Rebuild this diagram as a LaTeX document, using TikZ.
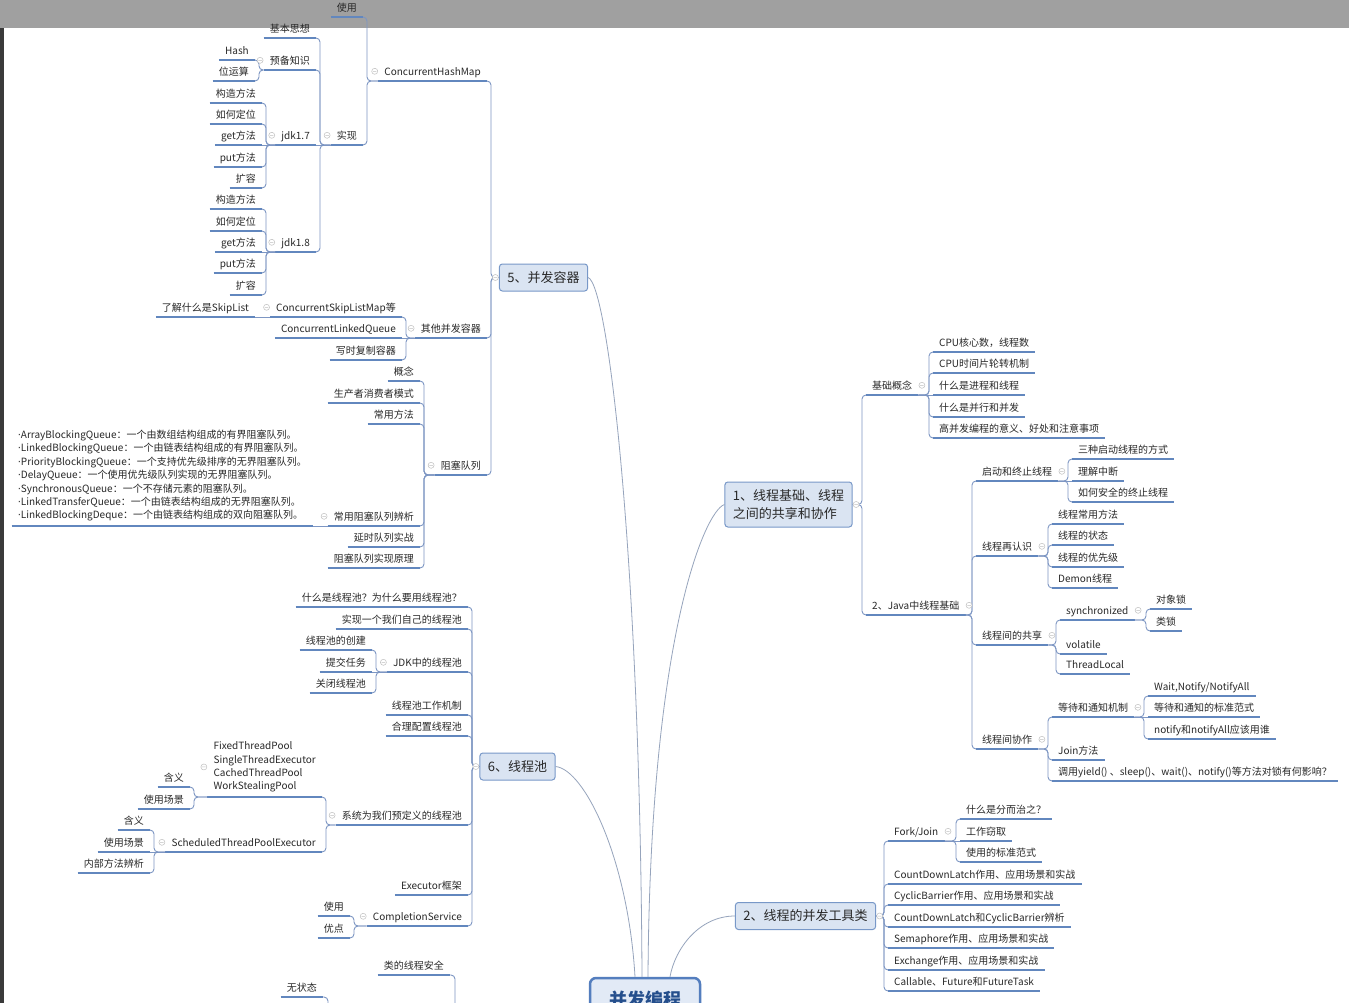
\documentclass[tikz,border=0pt]{standalone}
\usepackage{fontspec}
\setmainfont{Noto Sans CJK SC}
\newfontfamily\dotfont{DejaVu Sans}

\definecolor{ulblue}{RGB}{98,135,190}
\definecolor{lnblue}{RGB}{125,150,195}
\definecolor{boxfill}{RGB}{218,228,242}
\definecolor{boxdraw}{RGB}{120,152,200}
\definecolor{rootdraw}{RGB}{84,126,190}
\definecolor{rootfill}{RGB}{226,234,246}
\definecolor{roottext}{RGB}{36,78,140}
\definecolor{rootline}{RGB}{150,164,188}
\definecolor{leaftext}{RGB}{40,40,40}
\definecolor{bandgray}{RGB}{160,160,160}
\definecolor{edgegray}{RGB}{58,58,58}

\newcommand\leaffont{\fontsize{10}{13.4}\selectfont}
\newcommand\topicfont{\fontsize{13}{16}\selectfont}
\newcommand\rootfont{\fontsize{18}{22}\selectfont\bfseries}
\newcommand\md{{\dotfont ·}}

% Nhánh trái / phải: từ nút cha tới các nút con
\newcommand\lbranch[2]{\foreach \ch in {#2}
  \draw[branch] (#1) -- ([xshift=4pt]\ch.south east |- #1) |- (\ch.south east);}
\newcommand\rbranch[2]{\foreach \ch in {#2}
  \draw[branch] (#1) -- ([xshift=-4pt]\ch.south west |- #1) |- (\ch.south west);}

\tikzset{
  underlined/.style={append after command={(\tikzlastnode.south west) edge[uline] (\tikzlastnode.south east)}},
  leaf/.style={underlined, font=\leaffont, text=leaftext, inner xsep=6pt, inner ysep=4.5pt,
    text height=8.8pt, text depth=1.2pt},
  multi/.style={underlined, font=\leaffont, text=leaftext, inner xsep=6pt, inner ysep=4.5pt, align=left},
  uline/.style={draw=ulblue, line width=1.8pt},
  branch/.style={draw=lnblue, line width=0.9pt, rounded corners=4pt},
  mtopic/.style={draw=boxdraw, fill=boxfill, line width=1pt, rounded corners=3pt, font=\topicfont,
    text=leaftext, inner xsep=8pt, minimum height=27pt},
  roottopic/.style={draw=rootdraw, fill=rootfill, line width=2.5pt, rounded corners=6pt, font=\rootfont,
    text=roottext, minimum width=110pt, minimum height=44pt},
  rootlink/.style={draw=rootline, line width=0.8pt},
  fold/.style={draw=gray!50, fill=white, line width=0.5pt}
}

\begin{document}
\begin{tikzpicture}[x=1pt, y=-1pt]
\useasboundingbox (0,0) rectangle (1349,1003);
\clip (0,0) rectangle (1349,1003);

% Nền
\fill[white] (0,0) rectangle (1349,1003);
\fill[bandgray] (0,0) rectangle (1349,28);
\fill[edgegray] (0,28) rectangle (4,1003);

% Chủ đề chính
\node[roottopic] (root) at (645,1000) {并发编程};
\node[mtopic] (con) at (543.5,277.5) {5、并发容器};
\node[mtopic] (pool) at (517.5,766.5) {6、线程池};
\node[mtopic, align=left, minimum height=45pt, font=\fontsize{13}{18}\selectfont] (base) at (788.5,504.5) {1、线程基础、线程\\之间的共享和协作};
\node[mtopic] (tool) at (805.5,916) {2、线程的并发工具类};

\draw[rootlink] (con.east) .. controls +(20,7) and +(-2,-418) .. ([xshift=-3pt]root.north);
\draw[rootlink] (base.west) .. controls +(-20,7) and +(2,-338) .. ([xshift=3pt]root.north);
\draw[rootlink] (pool.east) .. controls +(29,3) and +(-7,-118) .. ([xshift=-10pt]root.north);
\draw[rootlink] (tool.west) .. controls +(-36,0) and +(5,-28) .. ([xshift=25pt]root.north);

% 5、并发容器
\node[leaf, anchor=south east] (chm) at (487,81) {ConcurrentHashMap};
\node[leaf, anchor=south east] (other) at (487,338) {其他并发容器};
\node[leaf, anchor=south east] (bq) at (487,475) {阻塞队列};
\node[leaf, anchor=south east] (use) at (363,17) {使用};
\node[leaf, anchor=south east] (impl) at (363,145) {实现};
\node[leaf, anchor=south east] (idea) at (316,38) {基本思想};
\node[leaf, anchor=south east] (prep) at (316,70) {预备知识};
\node[leaf, anchor=south east] (jdk7) at (316,145) {jdk1.7};
\node[leaf, anchor=south east] (jdk8) at (316,252) {jdk1.8};
\node[leaf, anchor=south east] (hash) at (255,60) {Hash};
\node[leaf, anchor=south east] (bits) at (255,81) {位运算};
\foreach \t/\y [count=\i] in {构造方法/103,如何定位/124,get方法/145,put方法/167,扩容/188}
  \node[leaf, anchor=south east] (a\i) at (262,\y) {\t};
\foreach \t/\y [count=\i] in {构造方法/209,如何定位/231,get方法/252,put方法/273,扩容/295}
  \node[leaf, anchor=south east] (b\i) at (262,\y) {\t};
\node[leaf, anchor=south east] (skipmap) at (402,317) {ConcurrentSkipListMap等};
\node[leaf, anchor=south east] (linkq) at (402,338) {ConcurrentLinkedQueue};
\node[leaf, anchor=south east] (cow) at (402,360) {写时复制容器};
\node[leaf, anchor=south east] (skiplist) at (255,317) {了解什么是SkipList};
\foreach \t/\y [count=\i] in {概念/381,生产者消费者模式/403,常用方法/424,常用阻塞队列辨析/526,延时队列实战/547,阻塞队列实现原理/568}
  \node[leaf, anchor=south east] (q\i) at (420,\y) {\t};
\node[multi, anchor=south east] (qlist) at (313,526) {\md ArrayBlockingQueue：一个由数组结构组成的有界阻塞队列。\\
  \md LinkedBlockingQueue：一个由链表结构组成的有界阻塞队列。\\
  \md PriorityBlockingQueue：一个支持优先级排序的无界阻塞队列。\\
  \md DelayQueue：一个使用优先级队列实现的无界阻塞队列。\\
  \md SynchronousQueue：一个不存储元素的阻塞队列。\\
  \md LinkedTransferQueue：一个由链表结构组成的无界阻塞队列。\\
  \md LinkedBlockingDeque：一个由链表结构组成的双向阻塞队列。};

\lbranch{con.west}{chm,other,bq}
\lbranch{chm.south west}{use,impl}
\lbranch{impl.south west}{idea,prep,jdk8}
\draw[branch] (impl.south west) -- (jdk7.south east);
\lbranch{prep.south west}{hash,bits}
\lbranch{jdk7.south west}{a1,a2,a4,a5}
\draw[branch] (jdk7.south west) -- (a3.south east);
\lbranch{jdk8.south west}{b1,b2,b4,b5}
\draw[branch] (jdk8.south west) -- (b3.south east);
\lbranch{other.south west}{skipmap,cow}
\draw[branch] (other.south west) -- (linkq.south east);
\draw[branch] (skipmap.south west) -- (skiplist.south east);
\lbranch{bq.south west}{q1,q2,q3,q4,q5,q6}
\draw[branch] (q4.south west) -- (qlist.south east);

% 6、线程池
\node[leaf, anchor=south east] (why) at (468,607) {什么是线程池？为什么要用线程池？};
\node[leaf, anchor=south east] (own) at (468,629) {实现一个我们自己的线程池};
\node[leaf, anchor=south east] (jdkpool) at (468,672) {JDK中的线程池};
\node[leaf, anchor=south east] (work) at (468,715) {线程池工作机制};
\node[leaf, anchor=south east] (conf) at (468,736) {合理配置线程池};
\node[leaf, anchor=south east] (pre) at (468,825) {系统为我们预定义的线程池};
\node[leaf, anchor=south east] (exec) at (468,895) {Executor框架};
\node[leaf, anchor=south east] (comp) at (468,926) {CompletionService};
\node[leaf, anchor=south east] (create) at (372,650) {线程池的创建};
\node[leaf, anchor=south east] (submit) at (372,672) {提交任务};
\node[leaf, anchor=south east] (close) at (372,693) {关闭线程池};
\node[multi, anchor=south east] (fixed) at (322,797) {FixedThreadPool\\SingleThreadExecutor\\CachedThreadPool\\WorkStealingPool};
\node[leaf, anchor=south east] (sched) at (322,852) {ScheduledThreadPoolExecutor};
\node[leaf, anchor=south east] (fmean) at (190,787) {含义};
\node[leaf, anchor=south east] (fscene) at (190,809) {使用场景};
\node[leaf, anchor=south east] (smean) at (150,830) {含义};
\node[leaf, anchor=south east] (sscene) at (150,852) {使用场景};
\node[leaf, anchor=south east] (sinner) at (150,873) {内部方法辨析};
\node[leaf, anchor=south east] (cuse) at (350,916) {使用};
\node[leaf, anchor=south east] (cgood) at (350,938) {优点};

\lbranch{pool.west}{why,own,jdkpool,work,conf,pre,exec,comp}
\lbranch{jdkpool.south west}{create,close}
\draw[branch] (jdkpool.south west) -- (submit.south east);
\lbranch{pre.south west}{fixed,sched}
\lbranch{fixed.south west}{fmean,fscene}
\lbranch{sched.south west}{smean,sinner}
\draw[branch] (sched.south west) -- (sscene.south east);
\lbranch{comp.south west}{cuse,cgood}

% nhánh phía dưới (bị cắt)
\node[leaf, anchor=south east] (safe) at (450,975) {类的线程安全};
\coordinate (safelow) at (455,1015);
\draw[branch] (safe.south east) -| (safelow);
\node[leaf, anchor=south east] (nostate) at (323,997) {无状态};
\coordinate (nostatelow) at (328,1015);
\draw[branch] (nostate.south east) -| (nostatelow);

% 1、线程基础
\node[leaf, anchor=south west] (concept) at (866,395) {基础概念};
\node[leaf, anchor=south west] (java) at (866,615) {2、Java中线程基础};
\foreach \t/\y [count=\i] in {CPU核心数，线程数/352,CPU时间片轮转机制/373,什么是进程和线程/395,什么是并行和并发/417,高并发编程的意义、好处和注意事项/438}
  \node[leaf, anchor=south west] (k\i) at (933,\y) {\t};
\node[leaf, anchor=south west] (start) at (976,481) {启动和终止线程};
\node[leaf, anchor=south west] (again) at (976,556) {线程再认识};
\node[leaf, anchor=south west] (share) at (976,645) {线程间的共享};
\node[leaf, anchor=south west] (coop) at (976,749) {线程间协作};
\node[leaf, anchor=south west] (ways) at (1072,459) {三种启动线程的方式};
\node[leaf, anchor=south west] (intr) at (1072,481) {理解中断};
\node[leaf, anchor=south west] (stop) at (1072,502) {如何安全的终止线程};
\foreach \t/\y [count=\i] in {线程常用方法/524,线程的状态/545,线程的优先级/567,Demon线程/588}
  \node[leaf, anchor=south west] (m\i) at (1052,\y) {\t};
\node[leaf, anchor=south west] (sync) at (1060,620) {synchronized};
\node[leaf, anchor=south west] (vola) at (1060,654) {volatile};
\node[leaf, anchor=south west] (tlocal) at (1060,674) {ThreadLocal};
\node[leaf, anchor=south west] (objlock) at (1150,609) {对象锁};
\node[leaf, anchor=south west] (clslock) at (1150,631) {类锁};
\node[leaf, anchor=south west] (notify) at (1052,717) {等待和通知机制};
\node[leaf, anchor=south west] (join) at (1052,760) {Join方法};
\node[leaf, anchor=south west] (yield) at (1052,781) {调用yield() 、sleep()、wait()、notify()等方法对锁有何影响？};
\node[leaf, anchor=south west] (wn) at (1148,696) {Wait,Notify/NotifyAll};
\node[leaf, anchor=south west] (paradigm) at (1148,717) {等待和通知的标准范式};
\node[leaf, anchor=south west] (who) at (1148,739) {notify和notifyAll应该用谁};

\rbranch{base.east}{concept,java}
\rbranch{concept.south east}{k1,k2,k4,k5}
\draw[branch] (concept.south east) -- (k3.south west);
\rbranch{java.south east}{start,again,share,coop}
\rbranch{start.south east}{ways,stop}
\draw[branch] (start.south east) -- (intr.south west);
\rbranch{again.south east}{m1,m2,m3,m4}
\rbranch{share.south east}{sync,vola,tlocal}
\rbranch{sync.south east}{objlock,clslock}
\rbranch{coop.south east}{notify,join,yield}
\rbranch{notify.south east}{wn,who}
\draw[branch] (notify.south east) -- (paradigm.south west);

% 2、线程的并发工具类
\node[leaf, anchor=south west] (fork) at (888,841) {Fork/Join};
\foreach \t/\y [count=\i] in {CountDownLatch作用、应用场景和实战/884,CyclicBarrier作用、应用场景和实战/905,CountDownLatch和CyclicBarrier辨析/927,Semaphore作用、应用场景和实战/948,Exchange作用、应用场景和实战/970,Callable、Future和FutureTask/991}
  \node[leaf, anchor=south west] (t\i) at (888,\y) {\t};
\node[leaf, anchor=south west] (divide) at (960,819) {什么是分而治之？};
\node[leaf, anchor=south west] (steal) at (960,841) {工作窃取};
\node[leaf, anchor=south west] (forkuse) at (960,862) {使用的标准范式};

\rbranch{tool.east}{fork,t1,t2,t3,t4,t5,t6}
\rbranch{fork.south east}{divide,forkuse}
\draw[branch] (fork.south east) -- (steal.south west);

% Nút thu gọn
\foreach \p in {con,pool,chm,impl,prep,jdk7,jdk8,other,skipmap,bq,q4,jdkpool,pre,fixed,sched,comp}
  \filldraw[fold] ([xshift=-3.5pt]\p.west) circle (3pt) ++(-1.7,0) -- ++(3.4,0);
\foreach \p in {base,tool,concept,java,start,again,share,sync,coop,notify,fork}
  \filldraw[fold] ([xshift=3.5pt]\p.east) circle (3pt) ++(-1.7,0) -- ++(3.4,0);
\end{tikzpicture}
\end{document}
